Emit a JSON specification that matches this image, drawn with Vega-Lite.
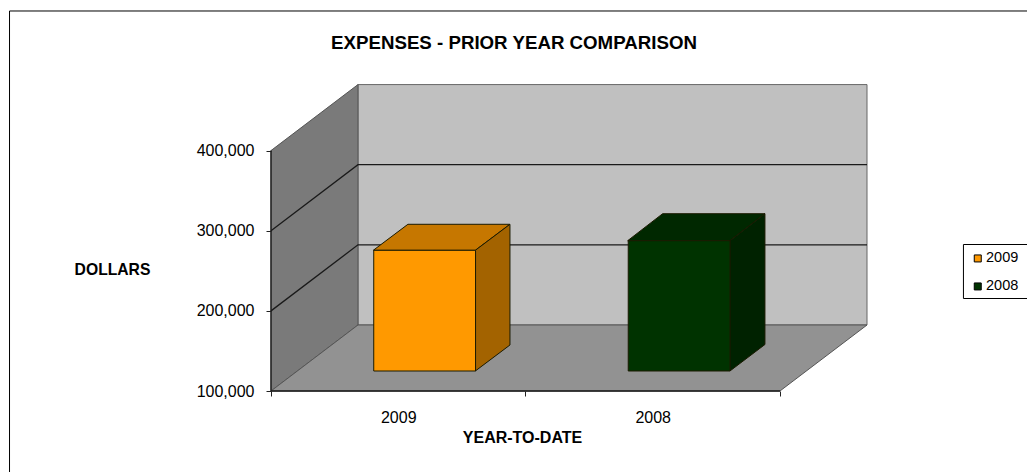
{
  "$schema": "https://vega.github.io/schema/vega-lite/v6.json",
  "width": 596,
  "height": 307,
  "autosize": {"type": "none"},
  "padding": {"left": 271, "top": 84, "right": 160, "bottom": 81},
  "background": "white",
  "config": {
    "view": {"stroke": null},
    "font": "Liberation Sans",
    "title": {"font": "Liberation Sans"},
    "axis": {"labelFont": "Liberation Sans", "titleFont": "Liberation Sans"},
    "legend": {"labelFont": "Liberation Sans"}
  },
  "title": {
    "text": "EXPENSES - PRIOR YEAR COMPARISON",
    "anchor": "start",
    "frame": "group",
    "align": "center",
    "dx": 243,
    "dy": 46,
    "fontSize": 18.7,
    "fontWeight": "bold",
    "color": "black"
  },
  "datasets": {
    "frame": [{"cat": -1.0275, "cat2": 3.3, "dollars": 574200, "dollars2": -40000}],
    "legendBox": [{"cat": 2.721, "cat2": 3.3, "dollars": 282814, "dollars2": 215428}],
    "leftWall": [
      {"cat": 0, "dollars": 100000, "dollars2": 400000},
      {"cat": 0.3418, "dollars": 182370, "dollars2": 482370}
    ],
    "backWall": [{"cat": 0.3418, "cat2": 2.342, "dollars": 182370, "dollars2": 482370}],
    "floor": [
      {"cat": 0, "cat2": 2, "dollars": 100000},
      {"cat": 0.3418, "cat2": 2.342, "dollars": 182370}
    ],
    "gridlines": [
      {"level": 200000, "cat": 0, "dollars": 200000},
      {"level": 200000, "cat": 0.3418, "dollars": 282370},
      {"level": 200000, "cat": 2.342, "dollars": 282370},
      {"level": 300000, "cat": 0, "dollars": 300000},
      {"level": 300000, "cat": 0.3418, "dollars": 382370},
      {"level": 300000, "cat": 2.342, "dollars": 382370}
    ],
    "axisLines": [
      {"line": "value", "cat": 0, "dollars": 100000},
      {"line": "value", "cat": 0, "dollars": 400000},
      {"line": "category", "cat": 0, "dollars": 100000},
      {"line": "category", "cat": 2, "dollars": 100000}
    ],
    "bars": [
      {"year": "2009", "cat": 0.3, "cat2": 0.7, "dollars": 250600, "dollars2": 100000},
      {"year": "2008", "cat": 1.3, "cat2": 1.7, "dollars": 262600, "dollars2": 100000}
    ],
    "barTops": [
      {"year": "2009", "cat": 0.402, "cat2": 0.803, "dollars": 275590},
      {"year": "2009", "cat": 0.538, "cat2": 0.939, "dollars": 308030},
      {"year": "2008", "cat": 1.4016, "cat2": 1.8035, "dollars": 287570},
      {"year": "2008", "cat": 1.539, "cat2": 1.941, "dollars": 321260}
    ],
    "barSides": [
      {"year": "2009", "cat": 0.803, "dollars": 124960, "dollars2": 275590},
      {"year": "2009", "cat": 0.939, "dollars": 157400, "dollars2": 308030},
      {"year": "2008", "cat": 1.8035, "dollars": 124960, "dollars2": 287570},
      {"year": "2008", "cat": 1.941, "dollars": 158030, "dollars2": 321260}
    ]
  },
  "encoding": {
    "x": {
      "field": "cat",
      "type": "quantitative",
      "scale": {"domain": [0, 2.342], "nice": false, "zero": false},
      "axis": {
        "zindex": 1,
        "title": "YEAR-TO-DATE",
        "titleFontSize": 16,
        "titleFontWeight": "bold",
        "titleColor": "black",
        "titleX": 251,
        "titleY": 46,
        "titleBaseline": "middle",
        "values": [0, 0.5, 1, 1.5, 2],
        "labelExpr": "datum.value === 0.5 ? '2009' : datum.value === 1.5 ? '2008' : ''",
        "labelFontSize": 16,
        "labelColor": "black",
        "labelPadding": 13,
        "labelFlush": false,
        "labelOverlap": false,
        "domain": false,
        "grid": false,
        "tickSize": 5,
        "tickColor": "#222222",
        "tickOpacity": {"condition": {"test": "datum.value % 1 === 0", "value": 1}, "value": 0}
      }
    },
    "y": {
      "field": "dollars",
      "type": "quantitative",
      "scale": {"domain": [100000, 483100], "nice": false, "zero": false},
      "axis": {
        "zindex": 1,
        "title": "DOLLARS",
        "titleFontSize": 15.7,
        "titleFontWeight": "bold",
        "titleColor": "black",
        "titleAngle": 0,
        "titleAlign": "center",
        "titleBaseline": "middle",
        "titleX": -159,
        "titleY": 185,
        "values": [100000, 200000, 300000, 400000],
        "format": ",d",
        "labelFontSize": 16,
        "labelColor": "black",
        "labelPadding": 12,
        "labelFlush": false,
        "labelOverlap": false,
        "domain": false,
        "grid": false,
        "tickSize": 5,
        "tickColor": "#222222"
      }
    }
  },
  "layer": [
    {
      "data": {"name": "frame"},
      "mark": {"type": "rect", "fill": "white", "stroke": "black", "strokeWidth": 1, "clip": false},
      "encoding": {"x2": {"field": "cat2"}, "y2": {"field": "dollars2"}}
    },
    {
      "data": {"name": "legendBox"},
      "mark": {"type": "rect", "fill": "white", "stroke": "black", "strokeWidth": 1, "clip": false},
      "encoding": {"x2": {"field": "cat2"}, "y2": {"field": "dollars2"}}
    },
    {
      "data": {"name": "backWall"},
      "mark": {"type": "rect", "fill": "#c0c0c0", "stroke": "#666666", "strokeWidth": 1},
      "encoding": {"x2": {"field": "cat2"}, "y2": {"field": "dollars2"}}
    },
    {
      "data": {"name": "leftWall"},
      "mark": {"type": "area", "orient": "vertical", "fill": "#7a7a7a", "stroke": "#555555", "strokeWidth": 1},
      "encoding": {"y2": {"field": "dollars2"}}
    },
    {
      "data": {"name": "floor"},
      "mark": {"type": "area", "orient": "horizontal", "fill": "#929292", "stroke": "#555555", "strokeWidth": 1},
      "encoding": {"x2": {"field": "cat2"}}
    },
    {
      "data": {"name": "gridlines"},
      "mark": {"type": "line", "stroke": "#1a1a1a", "strokeWidth": 1.3},
      "encoding": {"detail": {"field": "level", "type": "nominal"}}
    },
    {
      "data": {"name": "axisLines"},
      "mark": {"type": "line", "stroke": "#1a1a1a", "strokeWidth": 1.3},
      "encoding": {"detail": {"field": "line", "type": "nominal"}}
    },
    {
      "data": {"name": "barTops"},
      "mark": {"type": "area", "orient": "horizontal", "stroke": "#1a1a00", "strokeWidth": 1},
      "encoding": {
        "x2": {"field": "cat2"},
        "detail": {"field": "year", "type": "nominal"},
        "fill": {
          "field": "year",
          "type": "nominal",
          "scale": {"domain": ["2009", "2008"], "range": ["#c67700", "#002800"]},
          "legend": null
        }
      }
    },
    {
      "data": {"name": "barSides"},
      "mark": {"type": "area", "orient": "vertical", "stroke": "#1a1a00", "strokeWidth": 1},
      "encoding": {
        "y2": {"field": "dollars2"},
        "detail": {"field": "year", "type": "nominal"},
        "color": {
          "field": "year",
          "type": "nominal",
          "scale": {"domain": ["2009", "2008"], "range": ["#a36300", "#002200"]},
          "legend": null
        },
        "stroke": {"value": "#1a1a00"}
      }
    },
    {
      "data": {"name": "bars"},
      "mark": {
        "type": "rect",
        "stroke": "#1a1a00",
        "strokeWidth": 1,
        "xOffset": 26.4,
        "x2Offset": 26.4,
        "yOffset": -20,
        "y2Offset": -20
      },
      "encoding": {
        "x2": {"field": "cat2"},
        "y2": {"field": "dollars2"},
        "fill": {
          "field": "year",
          "type": "nominal",
          "scale": {"domain": ["2009", "2008"], "range": ["#ff9900", "#003300"]},
          "legend": {
            "title": null,
            "orient": "none",
            "legendX": 693.5,
            "legendY": 161.2,
            "padding": 6,
            "symbolType": "square",
            "symbolSize": 49,
            "symbolStrokeColor": "black",
            "symbolStrokeWidth": 1,
            "labelFontSize": 14.5,
            "labelColor": "black",
            "labelOffset": 1,
            "rowPadding": 13
          }
        }
      }
    }
  ],
  "resolve": {"scale": {"fill": "independent", "color": "independent"}}
}
